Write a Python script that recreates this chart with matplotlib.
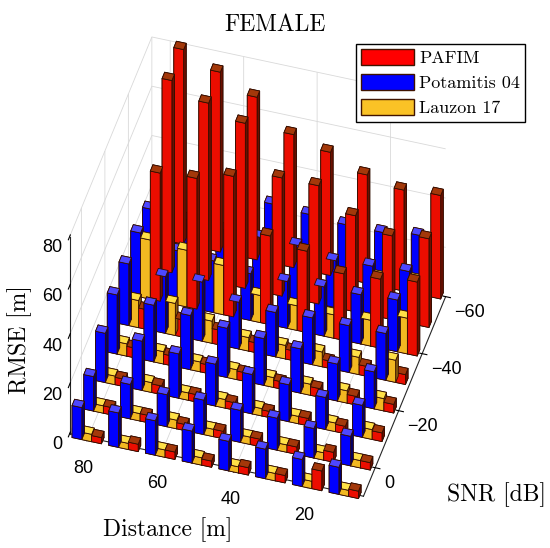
import numpy as np
import matplotlib
matplotlib.use("Agg")
import matplotlib.pyplot as plt
from matplotlib.patches import Patch

# grid of the experiment
distances = [10, 20, 30, 40, 50, 60, 70, 80]          # Distance [m]
snrs = [10, 0, -10, -20, -30, -40, -50, -60]          # SNR [dB]
methods = ["PAFIM", "Potamitis 04", "Lauzon 17"]

# RMSE [m], rows = snrs, columns = distances
rmse_pafim = [
    [3, 8, 3, 3, 2.5, 3, 3, 2.5],
    [3, 4, 3, 3, 3, 2.5, 3, 3],
    [3.5, 3, 3, 2.5, 3, 3, 3.5, 3],
    [3.5, 3.5, 3.5, 3, 3.5, 3.5, 4, 4],
    [4, 4, 3, 4, 4, 6, 7, 8],
    [30, 28, 27, 33, 36, 57, 53, 52],
    [36, 34, 39, 48, 48, 67, 72, 78],
    [42, 41, 44, 50, 54, 66, 73, 79],
]
rmse_potamitis = [
    [11, 11, 12, 12, 13, 14, 14, 13],
    [12, 12, 13, 13, 14, 13, 14, 14],
    [13, 13, 15, 16, 17, 18, 20, 20],
    [15, 15, 18, 19, 20, 22, 23, 24],
    [19, 19, 19, 18, 19, 24, 23, 25],
    [21, 20, 20, 19, 19, 21, 22, 26],
    [21, 20, 19, 22, 22, 22, 23, 24],
    [24, 22, 22, 23, 24, 24, 25, 26],
]
rmse_lauzon = [
    [2.5, 3, 3, 2.5, 3, 3, 2.5, 3],
    [3, 3, 3, 3, 3, 3.5, 3, 3],
    [4, 3.5, 3, 3, 3.5, 3, 4, 3.5],
    [5, 5, 4.5, 4, 4, 4, 5, 5],
    [9, 7, 6, 5.5, 5.5, 9, 13, 11],
    [14.5, 10.5, 9.5, 10, 11, 20, 23, 24],
    [18, 16, 14, 15, 16, 25, 28, 30],
    [21, 19, 17, 18, 20, 28, 32, 34],
]

# face colours: bottom, top, -y, +y (front), -x (side), +x
face_cols = {
    "PAFIM": [(0.5, 0.1, 0), (0.64, 0.22, 0.04), (0.5, 0.1, 0),
              (0.92, 0.05, 0.0), (0.42, 0.06, 0.0), (0.5, 0.1, 0)],
    "Potamitis 04": [(0, 0, 0.5), (0.3, 0.28, 1.0), (0, 0, 0.5),
                     (0.0, 0.0, 1.0), (0.0, 0.0, 0.45), (0, 0, 0.5)],
    "Lauzon 17": [(0.6, 0.45, 0.1), (1.0, 0.88, 0.28), (0.6, 0.45, 0.1),
                  (0.95, 0.72, 0.13), (0.55, 0.38, 0.05), (0.6, 0.45, 0.1)],
}
legend_cols = {"PAFIM": (1.0, 0.0, 0.0), "Potamitis 04": (0.0, 0.0, 1.0),
               "Lauzon 17": (0.98, 0.76, 0.15)}

tables = {"PAFIM": rmse_pafim, "Potamitis 04": rmse_potamitis, "Lauzon 17": rmse_lauzon}
# position of each series inside a group, along the distance axis
offsets = {"Potamitis 04": 1, "Lauzon 17": 0, "PAFIM": -1}

step = 10.0
bw = step * 0.8 / 3      # bar width along distance
bd = 2.2                 # bar depth along SNR

D, S = np.meshgrid(distances, snrs)
xs, ys, hs, cols = [], [], [], []
for name in methods:
    h = np.array(tables[name], dtype=float)
    xs.append((D + offsets[name] * bw - bw / 2).ravel())
    ys.append((S - bd / 2).ravel())
    hs.append(h.ravel())
    cols += face_cols[name] * h.size
xs = np.concatenate(xs)
ys = np.concatenate(ys)
hs = np.concatenate(hs)

fig = plt.figure(figsize=(5.5, 5.48), dpi=100)
ax = fig.add_axes([-0.045, 0.0, 1.0, 1.0], projection="3d", proj_type="ortho")
ax.bar3d(xs, ys, np.zeros_like(hs), bw, bd, hs, color=cols, shade=False,
         edgecolor=(0.2, 0.05, 0.0), linewidth=0.6)

ax.set_xlim(5, 85)
ax.set_ylim(-60, 10)
ax.set_zlim(0, 80)
ax.set_xticks([20, 40, 60, 80])
ax.set_yticks([-60, -40, -20, 0])
ax.set_zticks([0, 20, 40, 60, 80])
ax.view_init(elev=46, azim=106.5)
ax.set_box_aspect((1.08, 1.02, 1.0), zoom=0.9)
ax.zaxis.set_ticks_position("upper")

for axis in (ax.xaxis, ax.yaxis, ax.zaxis):
    axis.set_pane_color((1, 1, 1, 1))
    axis._axinfo["grid"]["color"] = (0.85, 0.85, 0.85)
    axis._axinfo["grid"]["linewidth"] = 0.6
    axis.line.set_color((0.15, 0.15, 0.15))
ax.tick_params(labelsize=13)
ax.zaxis.set_tick_params(pad=-4)
ax.yaxis.set_tick_params(pad=-2)
for t in ax.xaxis.get_ticklabels() + ax.yaxis.get_ticklabels() + ax.zaxis.get_ticklabels():
    t.set_fontfamily("Liberation Sans")
for t in ax.yaxis.get_ticklabels():
    t.set_horizontalalignment("left")
for t in ax.zaxis.get_ticklabels():
    t.set_horizontalalignment("right")

serif = "cmr10"
fig.text(0.035, 0.381, "RMSE [m]", rotation=90, ha="center", va="center",
         fontsize=17, fontfamily=serif)
fig.text(0.305, 0.033, "Distance [m]", ha="center", va="center",
         fontsize=17, fontfamily=serif)
fig.text(0.902, 0.097, "SNR [dB]", ha="center", va="center",
         fontsize=17, fontfamily=serif)
fig.text(0.5, 0.975, "FEMALE", ha="center", va="top", fontsize=17, fontfamily=serif)

handles = [Patch(facecolor=legend_cols[m], edgecolor=(0.25, 0.08, 0.0), label=m) for m in methods]
fig.legend(handles=handles, loc="upper right", bbox_to_anchor=(0.955, 0.92),
           prop={"family": serif, "size": 13}, fancybox=False, edgecolor="black",
           framealpha=1, handlelength=2.9, handleheight=0.95, borderpad=0.3,
           labelspacing=0.45, handletextpad=0.3, borderaxespad=0)

fig.savefig("out.png", dpi=100)
